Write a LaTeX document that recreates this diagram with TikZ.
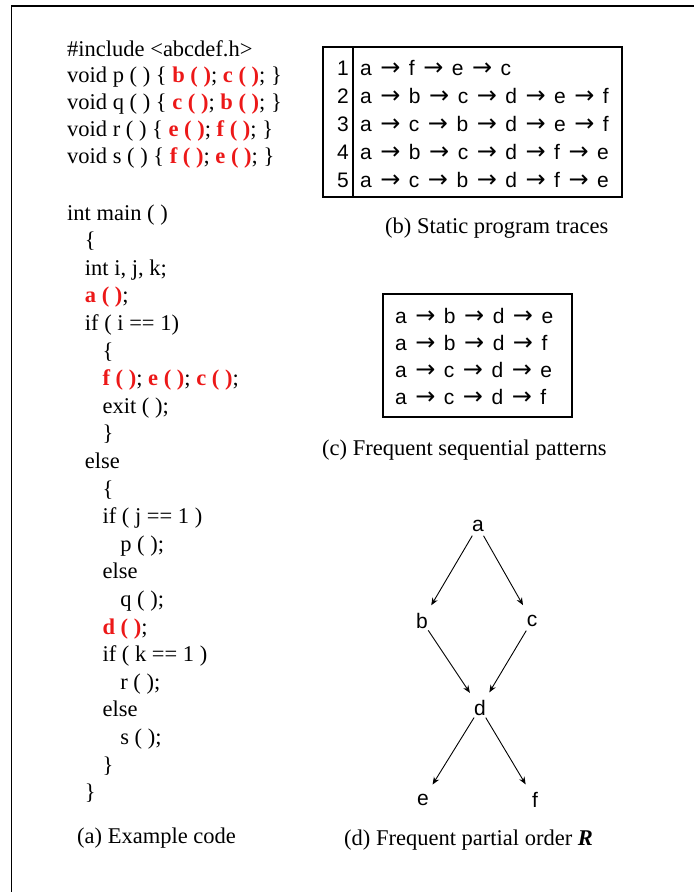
\documentclass[tikz,border=0pt]{standalone}
\usepackage{fontspec}
\setmainfont{Liberation Serif}
\newfontfamily\seqfont{Liberation Sans}
\newfontfamily\arrowfont{DejaVu Sans}
\usepackage{xcolor}
\usetikzlibrary{arrows.meta, positioning}

\definecolor{codered}{RGB}{236,24,24}
\newcommand{\hot}[1]{\textcolor{codered}{\textbf{#1}}}
\newcommand{\then}{\hspace{8.5pt}{\arrowfont\fontsize{24}{26}\selectfont →}\hspace{8.5pt}}

\begin{document}
\begin{tikzpicture}[
  x=1pt, y=-1pt,
  codeline/.style={anchor=base west, inner sep=0pt, font=\fontsize{22.5}{27}\selectfont},
  caption/.style={codeline},
  seqline/.style={anchor=base west, inner sep=0pt, font=\seqfont\fontsize{21}{24}\selectfont},
  event/.style={circle, inner sep=0pt, minimum size=22pt, font=\seqfont\fontsize{21}{24}\selectfont},
  arrow/.style={-{Stealth[length=7.5pt, width=6pt]}, line width=0.9pt, shorten >=7pt},
  frame/.style={line width=1.3pt}
]
\useasboundingbox (0,0) rectangle (694,892);

% outer frame
\draw[line width=1.8pt] (11.5,892) -- (11.5,6) -- (694,6);

% (a) example code
\foreach \txt [count=\k from 0] in {%
  {\#include <abcdef.h>},
  {void p ( ) \{ \hot{b ( )}; \hot{c ( )}; \}},
  {void q ( ) \{ \hot{c ( )}; \hot{b ( )}; \}},
  {void r ( ) \{ \hot{e ( )}; \hot{f ( )}; \}},
  {void s ( ) \{ \hot{f ( )}; \hot{e ( )}; \}}}
  \node[codeline] (head\k) at (67, 56+26.8*\k) {\txt};

\foreach \ind/\txt [count=\k from 0] in {%
  0/{int main ( )}, 1/{\{}, 1/{int i, j, k;}, 1/{\hot{a ( )};},
  1/{if ( i == 1)}, 2/{\{}, 2/{\hot{f ( )}; \hot{e ( )}; \hot{c ( )};},
  2/{exit ( );}, 2/{\}}, 1/{else}, 2/{\{}, 2/{if ( j == 1 )},
  3/{p ( );}, 2/{else}, 3/{q ( );}, 2/{\hot{d ( )};}, 2/{if ( k == 1 )},
  3/{r ( );}, 2/{else}, 3/{s ( );}, 2/{\}}, 1/{\}}}
  \node[codeline] (main\k) at (67+17.7*\ind, 220+27.6*\k) {\txt};

\node[caption] (capA) at (77,843) {(a) Example code};

% (b) static traces
\draw[frame] (323,47) rectangle (622,197);
\draw[frame] (353,47) -- (353,197);
\foreach \trace [count=\k] in {%
  {a\then f\then e\then c},
  {a\then b\then c\then d\then e\then f},
  {a\then c\then b\then d\then e\then f},
  {a\then b\then c\then d\then f\then e},
  {a\then c\then b\then d\then f\then e}}
{
  \node[seqline, anchor=base east] (num\k) at (349, 75+28*\k-28) {\k};
  \node[seqline] (trace\k) at (360, 75+28*\k-28) {\trace};
}
\node[caption] (capB) at (385,233) {(b) Static program traces};

% (c) sequential patterns
\draw[frame] (383,294) rectangle (572,417);
\foreach \pat [count=\k] in {%
  {a\then b\then d\then e},
  {a\then b\then d\then f},
  {a\then c\then d\then e},
  {a\then c\then d\then f}}
  \node[seqline] (pat\k) at (395, 323+27*\k-27) {\pat};
\node[caption] (capC) at (322,455) {(c) Frequent sequential patterns};

% (d) partial order
\node[event] (a) at (478,526) {a};
\node[event, on grid, below left=95pt and 56pt of a] (b) {b};
\node[event, on grid, below right=95pt and 54pt of a] (c) {c};
\node[event, on grid, below right=87pt and 58pt of b] (d) {d};
\node[event, on grid, below left=92pt and 57pt of d] (e) {e};
\node[event, on grid, below right=92pt and 55pt of d] (f) {f};
\draw[arrow] (a) -- (b);
\draw[arrow] (a) -- (c);
\draw[arrow] (b) -- (d);
\draw[arrow] (c) -- (d);
\draw[arrow] (d) -- (e);
\draw[arrow] (d) -- (f);
\node[caption] (capD) at (344,845) {(d) Frequent partial order \textbf{\textit{R}}};
\end{tikzpicture}
\end{document}
